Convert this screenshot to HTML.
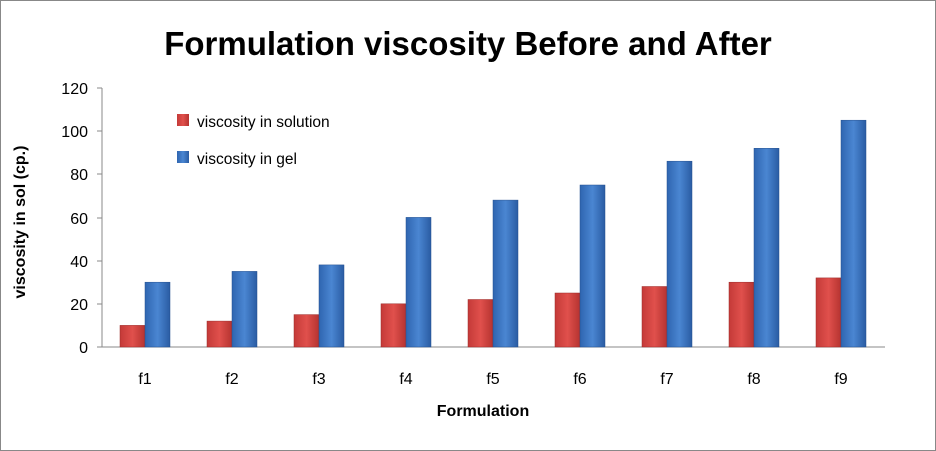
<!DOCTYPE html>
<html><head><style>body{margin:0;background:#fff}svg{display:block;font-family:"Liberation Sans",sans-serif}</style></head><body>
<svg width="936" height="451" viewBox="0 0 936 451">
<defs>
<linearGradient id="r" x1="0" x2="1"><stop offset="0" stop-color="#c43a38"/><stop offset="0.5" stop-color="#e0504c"/><stop offset="1" stop-color="#b53330"/></linearGradient>
<linearGradient id="b" x1="0" x2="1"><stop offset="0" stop-color="#2f65b0"/><stop offset="0.5" stop-color="#4a86d2"/><stop offset="1" stop-color="#2a5ca3"/></linearGradient>
</defs>
<rect x="0.5" y="0.5" width="935" height="450" fill="#fff" stroke="#888"/>
<text x="468" y="55" text-anchor="middle" font-size="33" font-weight="bold">Formulation viscosity Before and After</text>
<g stroke="#888" stroke-width="1">
<line x1="102" y1="88" x2="102" y2="347"/><line x1="102" y1="347" x2="885" y2="347"/>
<line x1="97" y1="347" x2="102" y2="347"/><line x1="97" y1="304" x2="102" y2="304"/><line x1="97" y1="261" x2="102" y2="261"/><line x1="97" y1="218" x2="102" y2="218"/><line x1="97" y1="174" x2="102" y2="174"/><line x1="97" y1="131" x2="102" y2="131"/><line x1="97" y1="88" x2="102" y2="88"/>
</g>
<g font-size="16" text-anchor="end">
<text x="88" y="353">0</text><text x="88" y="310">20</text><text x="88" y="267">40</text><text x="88" y="224">60</text><text x="88" y="180">80</text><text x="88" y="137">100</text><text x="88" y="94">120</text>
</g>
<text transform="translate(25 222) rotate(-90)" text-anchor="middle" font-size="16" font-weight="bold">viscosity in sol (cp.)</text>
<text x="483" y="416" text-anchor="middle" font-size="16" font-weight="bold">Formulation</text>
<g stroke-width="0.5">
<rect x="120" y="325.4" width="25" height="21.6" fill="url(#r)" stroke="#9a2a28"/><rect x="145" y="282.2" width="25" height="64.8" fill="url(#b)" stroke="#24508f"/>
<rect x="207" y="321.1" width="25" height="25.9" fill="url(#r)" stroke="#9a2a28"/><rect x="232" y="271.4" width="25" height="75.6" fill="url(#b)" stroke="#24508f"/>
<rect x="294" y="314.6" width="25" height="32.4" fill="url(#r)" stroke="#9a2a28"/><rect x="319" y="264.9" width="25" height="82.1" fill="url(#b)" stroke="#24508f"/>
<rect x="381" y="303.8" width="25" height="43.2" fill="url(#r)" stroke="#9a2a28"/><rect x="406" y="217.4" width="25" height="129.6" fill="url(#b)" stroke="#24508f"/>
<rect x="468" y="299.5" width="25" height="47.5" fill="url(#r)" stroke="#9a2a28"/><rect x="493" y="200.1" width="25" height="146.9" fill="url(#b)" stroke="#24508f"/>
<rect x="555" y="293" width="25" height="54" fill="url(#r)" stroke="#9a2a28"/><rect x="580" y="185" width="25" height="162" fill="url(#b)" stroke="#24508f"/>
<rect x="642" y="286.5" width="25" height="60.5" fill="url(#r)" stroke="#9a2a28"/><rect x="667" y="161.2" width="25" height="185.8" fill="url(#b)" stroke="#24508f"/>
<rect x="729" y="282.2" width="25" height="64.8" fill="url(#r)" stroke="#9a2a28"/><rect x="754" y="148.3" width="25" height="198.7" fill="url(#b)" stroke="#24508f"/>
<rect x="816" y="277.9" width="25" height="69.1" fill="url(#r)" stroke="#9a2a28"/><rect x="841" y="120.2" width="25" height="226.8" fill="url(#b)" stroke="#24508f"/>
</g>
<g font-size="16" text-anchor="middle">
<text x="145" y="384">f1</text><text x="232" y="384">f2</text><text x="319" y="384">f3</text><text x="406" y="384">f4</text><text x="493" y="384">f5</text><text x="580" y="384">f6</text><text x="667" y="384">f7</text><text x="754" y="384">f8</text><text x="841" y="384">f9</text>
</g>
<rect x="177" y="114" width="12" height="12" fill="url(#r)"/><text x="197" y="127" font-size="15.5">viscosity in solution</text>
<rect x="177" y="151" width="12" height="12" fill="url(#b)"/><text x="197" y="164" font-size="15.5">viscosity in gel</text>
</svg>
</body></html>
